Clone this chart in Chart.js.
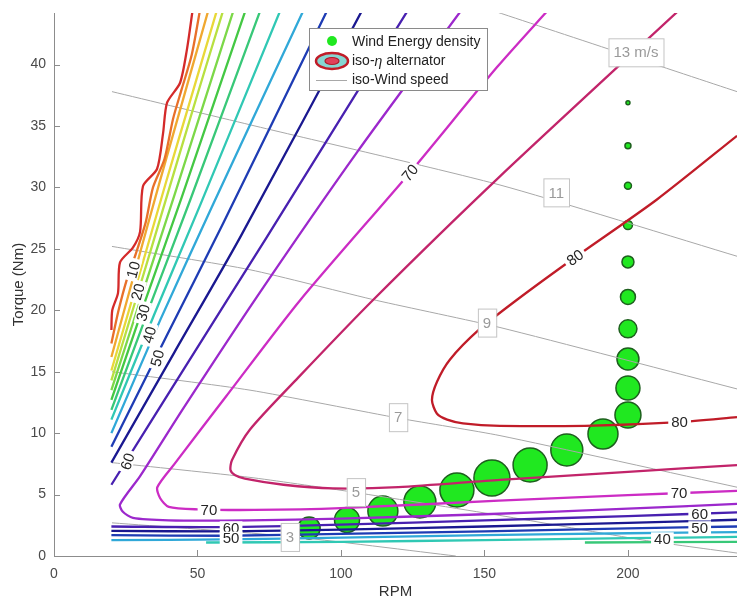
<!DOCTYPE html>
<html>
<head>
<meta charset="utf-8">
<script src="https://cdn.jsdelivr.net/npm/chart.js@4.4.0/dist/chart.umd.min.js"></script>
<style>
  html, body { margin: 0; padding: 0; background: #fff; }
  #wrap { width: 737px; height: 603px; }
</style>
</head>
<body>
<div id="wrap"><canvas id="effChart" width="737" height="603"></canvas></div>
<script>
// ticks
const rpmTicks = [0, 50, 100, 150, 200];
const torqueTicks = [0, 5, 10, 15, 20, 25, 30, 35, 40];

// wind energy density (bubble size) along the operating curve
const windRpm = [88.9, 102.1, 114.6, 127.5, 140.4, 152.6, 165.9, 178.7, 191.3, 200, 200, 200, 200, 200, 200, 200, 200, 200, 200];
const windTorque = [2.28, 2.93, 3.66, 4.40, 5.37, 6.35, 7.41, 8.63, 9.93, 11.48, 13.68, 16.04, 18.49, 21.09, 23.94, 26.95, 30.13, 33.39, 36.89];
const windSize = [11, 12.5, 15, 16, 17, 18, 17, 16, 15, 13, 12, 11, 9, 7.5, 6, 4.5, 3.5, 3, 2];

// iso-efficiency levels (%) and contour pieces [rpm, torque]
const levels = [0, 5, 10, 15, 20, 25, 30, 35, 40, 45, 50, 55, 60, 65, 70, 75, 80];
const iso0 = [[20, 18.4], [20.3, 20], [22.3, 21.4], [23, 23.9], [27.5, 25.1], [30, 26.4], [31, 30.1], [35.9, 31.5], [38, 34.4], [39.4, 36.9], [43.9, 38.5], [46.3, 41.2], [48.4, 44.6]];
const iso5 = [[20, 17.3], [22.5, 20], [25.5, 22.6], [28.5, 24.6], [32, 27.2], [34.5, 30], [38.5, 32.3], [41.5, 35.6], [44.5, 38], [48, 40.8], [51, 44.6]];
const iso10 = [[20, 16.2], [28, 23], [37, 30.6], [45.5, 37.6], [54, 44.6]];
const iso15 = [[20, 15.1], [29, 22.3], [39, 30.4], [48, 37.5], [57, 44.6]];
const iso20 = [[20, 14.3], [30, 22], [40, 29.8], [49.5, 37.2], [59.2, 44.6]];
const iso25 = [[20, 13.5], [31, 21.5], [42, 29.4], [62.8, 44.6]];
const iso30 = [[20, 12.7], [32, 20.9], [44.5, 29.2], [67, 44.6]];
const iso35 = [[20, 11.9], [33.5, 20.4], [47.5, 29], [72.2, 44.6]];
const iso40 = [[20, 11.1], [35, 19.7], [51, 28.6], [79.2, 44.6]];
const iso45 = [[20, 10.0], [37, 19.2], [55, 28.4], [87.3, 44.6]];
const iso50 = [[20, 8.9], [39, 17.8], [59, 27.1], [95.6, 44.6]];
const iso55 = [[20, 7.6], [42, 16.6], [65, 26], [107.8, 44.6]];
const iso60 = [[20, 5.8], [46, 15.5], [74, 25.9], [123.8, 44.6]];
const iso35low = [[185, 1.1], [238, 1.15]];
const iso40low = [[53, 1.1], [100, 1.15], [150, 1.3], [200, 1.45], [238, 1.55]];
const iso45low = [[20, 1.3], [60, 1.35], [100, 1.5], [150, 1.7], [200, 1.85], [238, 1.95]];
const iso50low = [[20, 1.7], [60, 1.65], [100, 1.8], [150, 2.0], [200, 2.25], [238, 2.4]];
const iso55low = [[20, 2.05], [60, 2.0], [100, 2.15], [150, 2.4], [200, 2.7], [238, 2.95]];
const iso60low = [[20, 2.4], [60, 2.35], [100, 2.55], [150, 2.9], [200, 3.25], [238, 3.55]];
const iso65 = [[142.5, 44.6], [106, 33], [70.7, 21.1], [45, 12], [30, 6.5], [23, 4.2], [24, 3.6], [27.5, 3.1], [40, 2.9], [68, 2.9], [100, 3.05], [150, 3.4], [200, 3.85], [238, 4.25]];
const iso70 = [[172.8, 44.6], [154.4, 39.8], [124, 31.2], [85.7, 20.8], [60, 13], [42, 7.5], [36, 5.6], [37, 4.7], [40, 4.0], [50, 3.8], [70, 3.75], [100, 3.9], [155, 4.5], [200, 4.95], [238, 5.3]];
const iso75 = [[218.6, 44.6], [155.4, 30.9], [111, 20.8], [85, 14.5], [68.3, 10.3], [62, 7.8], [61.5, 7.0], [63, 6.6], [66.5, 6.3], [80, 5.8], [97.2, 5.5], [120, 5.6], [155.4, 6.2], [200, 6.85], [238, 7.4]];
const iso80 = [[238, 34.2], [210, 29], [181.5, 24.3], [161, 20.8], [148, 18.4], [138, 16], [133.5, 14.2], [131.7, 12.7], [133.4, 11.6], [137, 11.1], [142.5, 10.8], [155.4, 10.6], [185, 10.6], [218, 10.9], [238, 11.3]];

// iso wind speed lines (m/s) [rpm, torque]
const windSpeeds = ["3", "5", "7", "9", "11", "13 m/s"];
const wind3 = [[20.2, 2.7], [82, 1.6], [140, 0]];
const wind5 = [[20.2, 7.6], [68.3, 6.4], [101.4, 5.3], [155.4, 3.3], [205.2, 1.3], [238, 0.24]];
const wind7 = [[20.2, 15.0], [68.3, 13.5], [120.6, 11.2], [155.4, 9.8], [238, 5.6]];
const wind9 = [[20.2, 25.2], [68.3, 23.3], [112.5, 20.8], [155.4, 18.6], [238, 13.6]];
const wind11 = [[20.2, 37.8], [68.3, 35.1], [155.4, 30.2], [238, 24.4]];
const wind13 = [[150.2, 44.6], [238, 37.8]];

const levelColors = {
  0: "#d42a2a", 5: "#e8702a", 10: "#f0a830", 15: "#e8d838", 20: "#b8e040",
  25: "#7cd848", 30: "#44c844", 35: "#38c878", 40: "#30c8b4", 45: "#30a8d8",
  50: "#1e3cb4", 55: "#1a1890", 60: "#4820b0", 65: "#9c28cc", 70: "#cc2cc4",
  75: "#c2246a", 80: "#c01c28"
};

const contourPieces = [
  [0, iso0], [5, iso5], [10, iso10], [15, iso15], [20, iso20], [25, iso25],
  [30, iso30], [35, iso35], [40, iso40], [45, iso45], [50, iso50], [55, iso55], [60, iso60],
  [35, iso35low], [40, iso40low], [45, iso45low], [50, iso50low], [55, iso55low], [60, iso60low],
  [65, iso65], [70, iso70], [75, iso75], [80, iso80]
];
const windLines = [wind3, wind5, wind7, wind9, wind11, wind13];

const toXY = pts => pts.map(p => ({ x: p[0], y: p[1] }));

const datasets = [];
datasets.push({
  type: "bubble",
  label: "Wind Energy density",
  data: windRpm.map((r, i) => ({ x: r, y: windTorque[i], r: windSize[i] })),
  backgroundColor: "rgb(32,232,32)",
  borderColor: "rgb(30,95,30)",
  borderWidth: 1.5,
  order: 3
});
windLines.forEach((pts, i) => {
  datasets.push({
    label: "wind " + windSpeeds[i],
    data: toXY(pts),
    showLine: true,
    borderColor: "#a8a8a8",
    borderWidth: 1,
    pointRadius: 0,
    tension: 0.2,
    order: 2
  });
});
contourPieces.forEach(([lvl, pts]) => {
  datasets.push({
    label: "eta " + lvl,
    data: toXY(pts),
    showLine: true,
    borderColor: levelColors[lvl],
    borderWidth: 2.3,
    pointRadius: 0,
    tension: 0.25,
    order: 1
  });
});

const FONT = '"Liberation Sans", Arial, sans-serif';

// inline labels: [text, rpm, torque, angle]
const contourTags = [
  ["10", 27.6, 23.3, -75], ["20", 29.2, 21.5, -75], ["30", 31, 19.8, -75],
  ["40", 33.2, 18, -75], ["50", 36, 16.1, -75], ["60", 25.6, 7.7, -72],
  ["70", 124, 31.2, -50], ["80", 181.5, 24.3, -36], ["80", 218, 10.9, 0],
  ["70", 54, 3.78, 0], ["70", 217.8, 5.1, 0], ["60", 61.7, 2.3, 0], ["50", 61.7, 1.45, 0],
  ["60", 225, 3.42, 0], ["50", 225, 2.3, 0], ["40", 212, 1.4, 0]
];
const windTagPos = [[82.2, 1.55], [105.2, 5.2], [119.9, 11.3], [150.9, 19.0], [175.0, 29.6], [202.8, 41.0]];

function drawTag(ctx, x, y, text, angle, o) {
  ctx.save();
  ctx.translate(x, y);
  ctx.rotate(angle * Math.PI / 180);
  ctx.font = o.font;
  const w = ctx.measureText(text).width;
  ctx.fillStyle = "#fff";
  ctx.fillRect(-w / 2 - o.pad, -o.h / 2, w + 2 * o.pad, o.h);
  if (o.border) {
    ctx.strokeStyle = o.border;
    ctx.lineWidth = 1;
    ctx.strokeRect(-w / 2 - o.pad + 0.5, -o.h / 2 + 0.5, w + 2 * o.pad, o.h);
  }
  ctx.fillStyle = o.color;
  ctx.textAlign = "center";
  ctx.textBaseline = "middle";
  ctx.fillText(text, 0, 1);
  ctx.restore();
}

const tagPlugin = {
  id: "tags",
  afterDatasetsDraw(chart) {
    const { ctx, scales: { x, y } } = chart;
    windTagPos.forEach((p, i) => {
      drawTag(ctx, x.getPixelForValue(p[0]), y.getPixelForValue(p[1]), windSpeeds[i], 0,
        { font: "15px " + FONT, pad: 5, h: 28, color: "#9a9a9a", border: "#c4c4c4" });
    });
    contourTags.forEach(t => {
      drawTag(ctx, x.getPixelForValue(t[1]), y.getPixelForValue(t[2]), t[0], t[3],
        { font: "15px " + FONT, pad: 3, h: 13, color: "#262626" });
    });
  }
};

const framePlugin = {
  id: "frame",
  afterDraw(chart) {
    const { ctx, chartArea: a, scales: { x, y } } = chart;
    ctx.save();
    ctx.strokeStyle = "#8c8c8c";
    ctx.lineWidth = 1;
    ctx.beginPath();
    rpmTicks.forEach(v => {
      const px = Math.round(x.getPixelForValue(v)) + 0.5;
      ctx.moveTo(px, a.bottom); ctx.lineTo(px, a.bottom - 6);
    });
    torqueTicks.forEach(v => {
      const py = Math.round(y.getPixelForValue(v)) + 0.5;
      ctx.moveTo(a.left, py); ctx.lineTo(a.left + 6, py);
    });
    ctx.stroke();

    // legend
    const bx = 309.5, by = 28.5, bw = 178, bh = 62;
    ctx.fillStyle = "#fff";
    ctx.fillRect(bx, by, bw, bh);
    ctx.strokeStyle = "#8a8a8a";
    ctx.strokeRect(bx, by, bw, bh);
    ctx.font = "14px " + FONT;
    ctx.fillStyle = "#222";
    ctx.textBaseline = "middle";
    ctx.textAlign = "left";
    ctx.fillText("Wind Energy density", 352, 42);
    ctx.fillText("iso-", 352, 61);
    const w1 = ctx.measureText("iso-").width;
    ctx.font = "italic 14px " + FONT;
    ctx.fillText("η", 352 + w1, 62);
    const w2 = ctx.measureText("η").width;
    ctx.font = "14px " + FONT;
    ctx.fillText(" alternator", 352 + w1 + w2, 61);
    ctx.fillText("iso-Wind speed", 352, 80);
    // marker icons
    ctx.fillStyle = "rgb(32,232,32)";
    ctx.beginPath(); ctx.arc(332, 41, 5, 0, Math.PI * 2); ctx.fill();
    ctx.beginPath(); ctx.ellipse(332, 61, 16, 8, 0, 0, Math.PI * 2);
    ctx.fillStyle = "#86d6d2"; ctx.fill();
    ctx.strokeStyle = "#c01c28"; ctx.lineWidth = 2.5; ctx.stroke();
    ctx.beginPath(); ctx.ellipse(332, 61, 7, 3.5, 0, 0, Math.PI * 2);
    ctx.fillStyle = "#e0405a"; ctx.fill();
    ctx.strokeStyle = "#b01828"; ctx.lineWidth = 1.2; ctx.stroke();
    ctx.strokeStyle = "#a8a8a8"; ctx.lineWidth = 1;
    ctx.beginPath(); ctx.moveTo(316, 80.5); ctx.lineTo(347, 80.5); ctx.stroke();
    ctx.restore();
  }
};

Chart.defaults.font.family = FONT;

new Chart(document.getElementById("effChart").getContext("2d"), {
  type: "scatter",
  data: { datasets },
  options: {
    responsive: false,
    animation: false,
    devicePixelRatio: 1,
    layout: { autoPadding: false, padding: { top: 13, right: 0, left: 0, bottom: 0 } },
    plugins: { legend: { display: false }, tooltip: { enabled: false } },
    scales: {
      x: {
        type: "linear",
        min: 0,
        max: 238,
        afterBuildTicks: s => { s.ticks = rpmTicks.map(v => ({ value: v })); },
        afterFit: s => { s.height = 47; s.paddingLeft = 0; s.paddingRight = 0; },
        grid: { display: false, drawTicks: false },
        border: { display: true, color: "#8c8c8c", width: 1 },
        ticks: { color: "#4a4a4a", font: { size: 14 }, padding: 10, maxRotation: 0 },
        title: { display: true, text: "RPM", color: "#333", font: { size: 15 }, padding: { top: 0, bottom: 2 } }
      },
      y: {
        type: "linear",
        min: 0,
        max: 44.2,
        afterBuildTicks: s => { s.ticks = torqueTicks.map(v => ({ value: v })); },
        afterFit: s => { s.width = 54; s.paddingTop = 0; s.paddingBottom = 0; },
        grid: { display: false, drawTicks: false },
        border: { display: true, color: "#8c8c8c", width: 1 },
        ticks: { color: "#4a4a4a", font: { size: 14 }, padding: 8 },
        title: { display: true, text: "Torque (Nm)", color: "#333", font: { size: 15 }, padding: { top: 10, bottom: 0 } }
      }
    }
  },
  plugins: [tagPlugin, framePlugin]
});
</script>
</body>
</html>
